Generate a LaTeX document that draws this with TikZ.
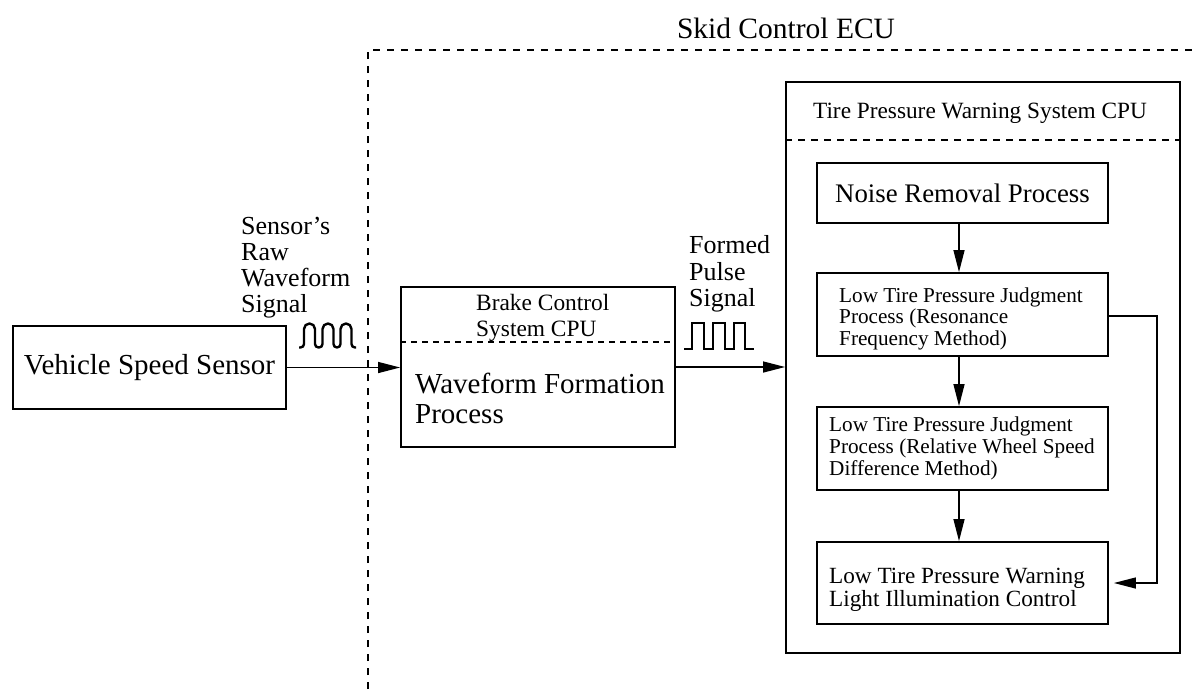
\documentclass[tikz,border=0pt]{standalone}
\usepackage{fontspec}
\setmainfont{Liberation Serif}
\usetikzlibrary{arrows.meta}
\tikzset{
  box/.style={draw, line width=1.8pt, rectangle, inner sep=0pt},
  arr/.style={line width=1.3pt, -{Triangle[length=22pt,width=11pt]}},
  bound/.style={line width=1.2pt, dash pattern=on 7pt off 7pt},
  txt/.style={inner sep=0pt, align=left},
  sigline/.style={line width=2.4pt, line join=round, line cap=butt}
}
\begin{document}
\begin{tikzpicture}[x=1pt,y=-1pt]
\useasboundingbox (0,0) rectangle (1193,689);
% ECU boundary
\coordinate (ecuB) at (368,689);
\coordinate (ecuC) at (368,50);
\coordinate (ecuR) at (1193,50);
\draw[bound] (ecuB) -- (ecuC) -- (ecuR);
\node[txt, font=\fontsize{29.5}{32}\selectfont] (ecu) at (786,28) {Skid Control ECU};

% Vehicle speed sensor
\node[box, minimum width=273pt, minimum height=83pt, font=\fontsize{29}{32}\selectfont] (vss) at (149.5,367.5) {Vehicle Speed Sensor};

% Brake control box
\node[box, minimum width=274pt, minimum height=160pt] (brake) at (538,367) {};
\node[txt, anchor=west, font=\fontsize{23.4}{26}\selectfont] (brakehead) at (476,318) {Brake Control\\System CPU};
\draw[line width=1.2pt, dash pattern=on 6pt off 5pt] (brake.west |- 0,342) coordinate (bdl) -- (brake.east |- 0,342) coordinate (bdr);
\node[txt, anchor=west, font=\fontsize{29}{30}\selectfont] (brakebody) at (415,398.5) {Waveform Formation\\Process};

% Tire Pressure Warning System CPU box
\node[box, minimum width=394pt, minimum height=571pt] (tpws) at (983,367.5) {};
\node[txt, font=\fontsize{23.3}{26}\selectfont] (tpwshead) at (980,113) {Tire Pressure Warning System CPU};
\draw[line width=1.2pt, dash pattern=on 7pt off 6pt] (tpws.west |- 0,140) coordinate (tdl) -- (tpws.east |- 0,140) coordinate (tdr);

\node[box, minimum width=291pt, minimum height=60pt, font=\fontsize{26.8}{30}\selectfont] (noise) at (962.5,193) {Noise Removal Process};
\node[box, minimum width=291pt, minimum height=83pt] (res) at (962.5,314.5) {};
\node[txt, anchor=west, font=\fontsize{21.2}{21.5}\selectfont] (restxt) at (839,318.5) {Low Tire Pressure Judgment\\Process (Resonance\\Frequency Method)};
\node[box, minimum width=291pt, minimum height=83pt] (rel) at (962.5,448.5) {};
\node[txt, anchor=west, font=\fontsize{21.2}{22}\selectfont] (reltxt) at (829,448) {Low Tire Pressure Judgment\\Process (Relative Wheel Speed\\Difference Method)};
\node[box, minimum width=291pt, minimum height=82pt] (warn) at (962.5,583) {};
\node[txt, anchor=west, font=\fontsize{23.2}{23.5}\selectfont] (warntxt) at (829,590) {Low Tire Pressure Warning\\Light Illumination Control};

% signal labels
\node[txt, anchor=west, font=\fontsize{26}{26}\selectfont] (rawlbl) at (241,268) {Sensor's\\Raw\\Waveform\\Signal};
\node[txt, anchor=west, font=\fontsize{26}{26.5}\selectfont] (pulselbl) at (689,274) {Formed\\Pulse\\Signal};

% raw waveform
\draw[sigline, rounded corners=3.5pt] (299,347.5) -- (304,347.5)
  [rounded corners=5.5pt] -- (304,323.5) -- (315,323.5)
  [rounded corners=3.5pt] -- (315,347.5) -- (322.5,347.5)
  [rounded corners=5.5pt] -- (322.5,323.5) -- (333.5,323.5)
  [rounded corners=3.5pt] -- (333.5,347.5) -- (340.5,347.5)
  [rounded corners=5.5pt] -- (340.5,323.5) -- (351.5,323.5)
  [rounded corners=3.5pt] -- (351.5,347.5) -- (356,347.5);
% pulse waveform
\draw[sigline, line join=miter] (684,349) -- (692,349) -- (692,323) -- (704,323) -- (704,349) -- (713,349) -- (713,323) -- (725,323) -- (725,349) -- (734,349) -- (734,323) -- (745,323) -- (745,349) -- (754,349);

% connectors
\draw[arr] (vss.east) -- (vss.east -| brake.west);
\draw[arr] (brake.east) -- (brake.east -| tpws.west);
\coordinate (ax) at (959,0);
\draw[arr] (noise.south -| ax) -- (res.north -| ax);
\draw[arr] (res.south -| ax) -- (rel.north -| ax);
\draw[arr] (rel.south -| ax) -- (warn.north -| ax);
\coordinate (fbx) at (1157,316);
\draw[arr] (res.east |- fbx) -- (fbx) |- ([xshift=5pt]warn.east);
\end{tikzpicture}
\end{document}
